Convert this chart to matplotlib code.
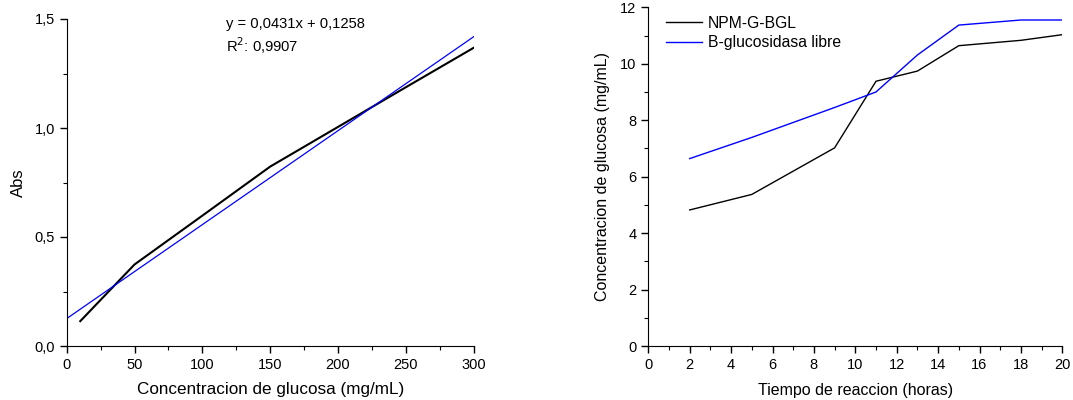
import matplotlib
matplotlib.use("Agg")
import matplotlib.pyplot as plt
from matplotlib.ticker import MultipleLocator, FuncFormatter

plt.rcParams['font.family'] = ['Liberation Sans', 'DejaVu Sans']

# Left chart: calibration curve
cal_x = [10, 50, 100, 150, 200, 250, 300]
cal_y = [0.114, 0.374, 0.598, 0.823, 1.005, 1.187, 1.368]
fit_x = [0, 300]
fit_y = [0.1258, 1.4188]
eq_text = "y = 0,0431x + 0,1258"
r2_text = "R$^{2}$: 0,9907"

# Right chart: glucose vs time
t_npm = [2, 5, 9, 11, 13, 15, 18, 20]
g_npm = [4.82, 5.37, 7.02, 9.38, 9.74, 10.64, 10.83, 11.03]
t_free = [2, 5, 9, 11, 13, 15, 18, 20]
g_free = [6.64, 7.39, 8.45, 9.0, 10.31, 11.37, 11.55, 11.55]
labels = ["NPM-G-BGL", "B-glucosidasa libre"]

W, H = 1073, 400
fig = plt.figure(figsize=(W / 100, H / 100), dpi=100)

def px_axes(x0, x1, y0, y1):
    return fig.add_axes([x0 / W, 1 - y1 / H, (x1 - x0) / W, (y1 - y0) / H])

comma = FuncFormatter(lambda v, p: f"{v:.1f}".replace(".", ","))

ax1 = px_axes(66.7, 473.7, 19, 346)
ax1.plot(cal_x, cal_y, color='black', lw=1.5)
ax1.plot(fit_x, fit_y, color='blue', lw=0.9)
ax1.set_xlim(0, 300)
ax1.set_ylim(0, 1.5)
ax1.xaxis.set_major_locator(MultipleLocator(50))
ax1.xaxis.set_minor_locator(MultipleLocator(25))
ax1.yaxis.set_major_locator(MultipleLocator(0.5))
ax1.yaxis.set_minor_locator(MultipleLocator(0.25))
ax1.yaxis.set_major_formatter(comma)
ax1.set_xlabel("Concentracion de glucosa (mg/mL)", fontsize=12.3, labelpad=7)
ax1.set_ylabel("Abs", fontsize=12, labelpad=6)
ax1.text(0.392, 0.985, eq_text, transform=ax1.transAxes, fontsize=10.6, va='center')
ax1.text(0.392, 0.92, r2_text, transform=ax1.transAxes, fontsize=10.6, va='center')

ax2 = px_axes(648.3, 1062.3, 7.3, 346)
ax2.plot(t_npm, g_npm, color='black', lw=1.0, label=labels[0])
ax2.plot(t_free, g_free, color='blue', lw=1.0, label=labels[1])
ax2.set_xlim(0, 20)
ax2.set_ylim(0, 12)
ax2.xaxis.set_major_locator(MultipleLocator(2))
ax2.xaxis.set_minor_locator(MultipleLocator(1))
ax2.yaxis.set_major_locator(MultipleLocator(2))
ax2.yaxis.set_minor_locator(MultipleLocator(1))
ax2.set_xlabel("Tiempo de reaccion (horas)", fontsize=11.5, labelpad=8)
ax2.set_ylabel("Concentracion de glucosa (mg/mL)", fontsize=11.5, labelpad=7)
ax2.legend(loc='upper left', frameon=False, fontsize=11.3, handlelength=2.3,
           handletextpad=0.35, labelspacing=0.27, borderpad=0, borderaxespad=0,
           bbox_to_anchor=(0.043, 0.975))

for ax in (ax1, ax2):
    for s in ('top', 'right'):
        ax.spines[s].set_visible(False)
    ax.tick_params(which='major', direction='out', length=5, width=1, labelsize=10.5)
    ax.tick_params(which='minor', direction='out', length=3, width=0.8)

fig.savefig("out.png", dpi=100)
